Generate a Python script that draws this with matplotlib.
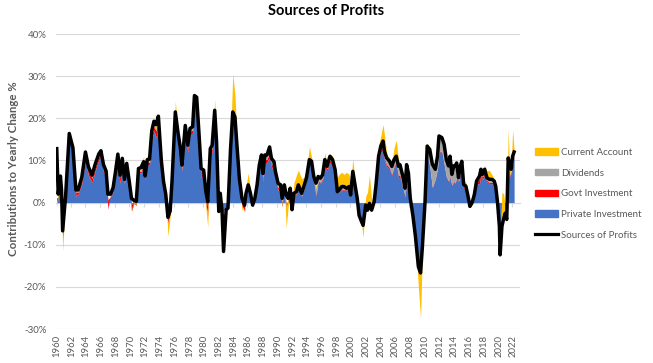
import matplotlib.pyplot as plt
from matplotlib.patches import Patch
from matplotlib.lines import Line2D
import numpy as np

plt.rcParams['font.family'] = ['Lato', 'DejaVu Sans']

# quarterly-ish readings, % contribution to yearly change
years = [1960.00, 1960.20, 1960.50, 1960.65, 1960.80, 1961.20, 1961.70, 1962.20, 1962.60, 1962.90,
         1963.40, 1963.90, 1964.30, 1964.80, 1965.20, 1965.70, 1966.00, 1966.35, 1966.70, 1966.95,
         1967.30, 1967.65, 1967.95, 1968.30, 1968.60, 1968.90, 1969.20, 1969.50, 1969.85, 1970.15,
         1970.50, 1970.80, 1971.10, 1971.45, 1971.80, 1972.00, 1972.30, 1972.60, 1972.90, 1973.20,
         1973.50, 1973.80, 1974.20, 1974.50, 1974.80, 1975.10, 1975.40, 1975.65, 1976.10, 1976.45,
         1976.80, 1977.00, 1977.45, 1977.80, 1978.10, 1978.45, 1978.70, 1979.00, 1979.30, 1979.60,
         1979.95, 1980.25, 1980.50, 1980.85, 1981.10, 1981.45, 1981.70, 1982.00, 1982.20, 1982.45,
         1982.65, 1983.00, 1983.25, 1983.60, 1983.90, 1984.20, 1984.50, 1984.80, 1985.15, 1985.50,
         1985.70, 1986.00, 1986.30, 1986.60, 1986.90, 1987.20, 1987.50, 1987.80, 1988.00, 1988.25,
         1988.55, 1988.90, 1989.15, 1989.50, 1989.70, 1990.05, 1990.40, 1990.60, 1990.90, 1991.15,
         1991.40, 1991.70, 1991.95, 1992.20, 1992.55, 1992.80, 1993.25, 1993.55, 1993.90, 1994.30,
         1994.60, 1994.90, 1995.20, 1995.50, 1995.80, 1996.10, 1996.40, 1996.70, 1997.10, 1997.45,
         1997.80, 1998.10, 1998.35, 1998.70, 1999.00, 1999.35, 1999.70, 1999.90, 2000.20, 2000.50,
         2000.80, 2001.05, 2001.40, 2001.60, 2001.95, 2002.20, 2002.45, 2002.75, 2003.10, 2003.35,
         2003.70, 2004.00, 2004.30, 2004.50, 2004.80, 2005.20, 2005.50, 2005.80, 2006.10, 2006.40,
         2006.60, 2007.00, 2007.30, 2007.50, 2007.75, 2008.00, 2008.35, 2008.70, 2009.10, 2009.40,
         2009.65, 2010.00, 2010.30, 2010.65, 2011.00, 2011.40, 2011.70, 2011.90, 2012.30, 2012.60,
         2012.90, 2013.20, 2013.40, 2013.65, 2013.90, 2014.10, 2014.30, 2014.55, 2014.80, 2015.00,
         2015.25, 2015.55, 2015.80, 2016.10, 2016.40, 2016.70, 2017.00, 2017.40, 2017.60, 2017.80,
         2018.10, 2018.40, 2018.75, 2019.10, 2019.40, 2019.60, 2019.85, 2020.10, 2020.20, 2020.45,
         2020.70, 2020.90, 2021.10, 2021.30, 2021.45, 2021.70, 2021.90, 2022.10]

total = [12.8, 2.0, 6.3, 3.0, -6.7, 1.5, 16.4, 13.0, 3.0, 3.0,
         6.0, 12.0, 8.5, 6.5, 9.0, 11.5, 12.3, 9.0, 7.5, 2.0,
         2.0, 3.5, 7.0, 11.5, 6.5, 10.5, 5.5, 9.3, 5.0, 1.0,
         0.5, 0.3, 8.1, 8.3, 9.7, 6.3, 10.2, 10.3, 17.0, 19.3,
         18.5, 20.5, 10.0, 5.0, 2.0, -3.5, -2.0, 5.0, 21.5, 16.8,
         12.8, 8.9, 18.3, 13.6, 17.6, 18.0, 25.4, 25.0, 16.8, 8.1,
         7.7, 2.6, 0.2, 12.8, 13.6, 21.9, 14.4, -2.1, 2.2, -2.1,
         -11.6, -1.7, -1.3, 12.8, 21.5, 20.3, 12.8, 5.7, 1.0, -0.6,
         2.2, 4.2, 2.2, -0.6, 1.0, 4.2, 8.9, 11.3, 6.9, 11.3,
         11.3, 13.2, 10.5, 9.7, 7.3, 4.6, 4.2, 1.0, 4.2, 1.8,
         1.0, 3.4, -1.7, 2.2, 2.6, 4.2, 2.2, 3.8, 5.8, 10.2,
         9.8, 6.2, 4.6, 6.2, 5.8, 6.6, 10.2, 8.6, 11.0, 10.2,
         7.8, 2.6, 3.0, 3.8, 3.8, 3.4, 3.8, 1.8, 7.4, 4.2,
         1.0, -3.0, -4.6, -5.4, -0.6, -1.8, -0.2, -1.8, 0.2, 4.2,
         11.0, 13.4, 14.6, 12.2, 10.6, 9.8, 8.6, 10.2, 11.0, 8.6,
         9.0, 6.2, 3.4, 9.0, 7.0, 1.0, -3.0, -8.0, -15.2, -16.7,
         -10.4, 0.0, 13.4, 12.6, 9.1, 7.9, 11.0, 15.8, 15.4, 13.8,
         10.2, 8.7, 11.0, 6.7, 8.7, 8.7, 9.4, 5.9, 8.7, 9.8,
         4.3, 3.9, 1.9, -0.9, 0.0, 1.9, 5.1, 6.3, 7.9, 6.7,
         7.9, 5.9, 5.5, 5.5, 5.1, 3.9, 0.0, -5.6, -12.4, -5.6,
         -3.7, -2.5, -4.0, 10.6, 9.4, 7.9, 11.0, 12.0]

private = [1.0, 1.5, 5.0, 2.5, -5.5, 1.0, 15.0, 11.5, 1.5, 2.0,
           4.5, 10.0, 6.5, 4.8, 7.5, 10.0, 11.0, 7.5, 5.5, 0.5,
           1.5, 2.5, 5.5, 10.0, 4.5, 9.5, 4.5, 8.5, 4.0, -0.5,
           0.5, 0.5, 7.0, 7.0, 8.5, 5.5, 9.0, 9.0, 15.0, 17.0,
           15.5, 19.0, 9.0, 4.0, 1.5, -3.0, -1.5, 4.5, 18.5, 15.0,
           11.0, 7.5, 16.0, 12.0, 16.0, 16.5, 24.0, 22.5, 14.5, 6.0,
           6.0, 1.0, -1.0, 11.5, 12.0, 19.5, 13.0, -1.0, 1.5, -1.5,
           -1.5, -1.5, -1.0, 11.5, 20.0, 19.0, 11.5, 5.0, 0.5, -0.5,
           1.5, 3.0, 1.5, -0.5, 0.8, 3.5, 7.5, 9.0, 5.0, 9.5,
           9.5, 11.0, 8.5, 7.5, 5.5, 3.0, 2.5, 0.0, 3.0, -0.5,
           0.5, 2.5, -1.0, 1.5, 2.0, 3.5, 1.5, 3.0, 5.0, 9.0,
           8.5, 5.0, 1.5, 5.0, 4.5, 5.5, 8.5, 7.5, 9.5, 8.5,
           6.5, 2.5, 2.5, 3.0, 3.0, 3.0, 3.0, 1.5, 6.5, 3.5,
           0.5, -2.5, -4.0, -4.5, -0.5, -1.0, 0.5, -1.0, 0.0, 3.5,
           9.5, 12.0, 12.5, 10.0, 8.5, 8.0, 6.5, 8.5, 9.0, 6.0,
           6.0, 3.5, 1.5, 5.5, 3.0, 0.5, -2.5, -7.5, -15.0, -16.5,
           -10.0, 0.0, 11.0, 8.5, 3.5, 5.5, 8.0, 12.0, 12.0, 9.0,
           6.0, 5.0, 6.0, 4.0, 5.0, 4.5, 6.0, 5.0, 6.5, 8.5,
           3.5, 3.0, 1.5, -0.5, 0.0, 1.5, 4.5, 4.5, 6.5, 5.5,
           6.5, 5.0, 4.5, 4.5, 4.0, 3.0, -0.5, -5.0, -6.0, -4.5,
           -3.0, -2.5, -3.5, 9.0, 6.0, 7.0, 9.0, 11.0]

govt = [-1.0, 0.3, 0.5, 0.3, -3.5, 0.4, 0.5, 0.6, 1.0, 0.5,
        0.8, 1.0, 1.0, 1.0, 0.8, 0.8, 0.6, 0.8, 1.2, -2.0,
        0.3, 0.6, 1.0, 1.0, 1.5, 0.6, 0.6, 0.5, 0.6, -1.5,
        -0.6, -1.2, 0.5, 0.4, 0.6, 0.4, 0.6, 0.5, 1.0, 1.0,
        1.5, 0.8, 0.5, 0.6, 0.3, -2.0, -1.0, 0.3, 1.5, 1.0,
        1.0, 0.5, 1.0, 0.8, 0.8, 0.8, 0.6, 1.5, 1.5, 1.5,
        1.0, -1.5, -2.0, 0.8, 0.8, 1.0, 0.8, -1.5, 0.3, -0.5,
        -0.3, 0.2, 0.3, 0.5, 0.3, 0.3, 0.3, 0.2, -1.5, -1.5,
        0.2, 0.3, 0.2, -0.5, 0.2, 0.3, 0.5, 0.8, 0.8, 0.8,
        0.8, 1.0, 0.8, 0.8, 0.6, 0.6, 0.8, -1.0, 0.5, -1.0,
        -0.5, 0.2, -0.5, 0.2, 0.2, 0.2, 0.2, 0.2, 0.2, 0.3,
        0.3, 0.3, 0.3, 0.3, 0.3, 0.3, 0.8, 0.5, 0.6, 0.6,
        0.4, 0.2, 0.2, 0.2, 0.2, 0.2, 0.2, 0.2, 0.2, 0.2,
        0.2, -0.3, -0.5, -1.0, 0.2, -0.3, 0.3, -0.5, 0.3, 0.3,
        0.5, 0.5, 0.5, 0.5, 0.5, 0.3, 0.3, 0.3, 0.3, 0.5,
        0.5, 0.3, -0.5, 0.3, -0.8, -1.5, -1.0, -0.5, 0.0, 0.0,
        0.0, 0.0, 0.2, 0.2, 0.2, 0.2, 0.2, 0.2, 0.2, 0.2,
        0.2, 0.2, 0.2, 0.2, 0.2, 0.2, 0.2, 0.2, 0.2, 0.2,
        0.2, 0.2, 0.2, -0.6, -0.3, 0.2, 0.3, 1.2, 0.8, 0.6,
        0.5, 0.3, 0.3, 0.3, 0.3, 0.3, 0.2, -0.2, -0.3, 0.0,
        0.0, 0.0, 0.0, 0.3, 0.3, 0.3, 0.3, 0.3]

dividends = [0.0, 0.0, 0.3, 0.0, -1.0, 0.0, 0.5, 0.5, 0.3, 0.3,
             0.5, 0.7, 0.8, 0.5, 0.5, 0.5, 0.4, 0.4, 0.4, 0.3,
             0.2, 0.3, 0.3, 0.3, 0.3, 0.2, 0.2, 0.2, 0.2, 0.3,
             0.3, 0.2, 0.3, 0.3, 0.3, 0.3, 0.3, 0.3, 0.5, 0.6,
             0.5, 0.3, 0.3, 0.3, 0.3, 0.0, 0.2, 0.2, 0.5, 0.3,
             0.3, 0.3, 0.5, 0.4, 0.4, 0.4, 0.4, 0.5, 0.4, 0.3,
             0.3, 0.3, 0.2, 0.3, 0.3, 0.5, 0.3, 0.2, 0.2, 0.0,
             0.0, 0.0, 0.0, 0.2, 0.2, 0.2, 0.2, 0.2, 0.2, 0.2,
             0.2, 0.2, 0.2, 0.2, 0.2, 0.2, 0.5, 0.8, 1.0, 0.8,
             0.8, 1.0, 1.0, 1.2, 1.0, 1.0, 1.0, 0.8, 0.8, 0.5,
             0.5, 0.5, 0.5, 0.5, 0.8, 1.0, 1.0, 0.8, 0.5, 0.5,
             0.5, 0.5, 1.5, 0.8, 0.8, 0.6, 0.5, 0.4, 0.4, 0.5,
             0.5, 0.8, 1.0, 1.5, 0.5, 0.5, 0.5, 0.3, 0.3, 0.3,
             0.2, 0.2, 0.2, 0.3, 0.3, 0.3, 0.3, 0.3, 0.3, 0.5,
             0.5, 0.8, 1.0, 1.0, 1.5, 1.5, 1.8, 1.2, 1.5, 2.0,
             2.5, 2.5, 2.0, 3.0, 3.5, 3.0, 1.5, 0.5, 0.0, 0.0,
             0.3, 0.5, 2.5, 3.8, 5.0, 2.5, 3.0, 3.8, 3.4, 4.8,
             4.0, 3.6, 5.0, 2.5, 3.5, 4.0, 3.2, 0.8, 2.0, 1.2,
             0.6, 0.5, 0.2, 0.2, 0.2, 0.2, 0.2, 0.3, 0.3, 0.3,
             0.3, 0.3, 0.3, 0.3, 0.3, 0.2, 0.2, 0.0, 0.0, 0.0,
             0.0, 0.0, 0.0, 0.3, 0.3, 0.3, 0.5, 0.3]

current = [-1.0, -0.5, 0.3, 0.0, -1.5, 0.0, 1.0, 0.5, 0.2, 0.2,
           0.3, 0.3, 0.2, 0.2, 0.2, 0.5, 0.3, 0.3, 0.2, 0.0,
           0.0, 0.1, 0.2, 0.2, 0.2, 0.2, 0.2, 0.1, 0.2, 0.2,
           0.3, 0.3, 0.8, 1.5, 1.5, 0.3, 1.2, 2.2, 1.0, 0.8,
           2.5, 0.5, 0.4, 0.3, 0.2, -3.0, -1.0, 0.2, 3.5, 1.0,
           0.5, 0.6, 1.0, 0.4, 0.5, 0.3, 0.5, 0.3, 0.2, 0.2,
           0.3, -1.0, -3.0, 0.3, 0.4, 3.5, 0.5, -0.5, 0.2, -0.3,
           0.0, 0.0, 0.2, 2.5, 10.0, 6.0, 2.0, 0.5, -1.0, 0.5,
           2.0, 3.5, 1.0, -0.3, 0.3, 0.5, 1.0, 1.5, 0.5, 0.5,
           0.3, 0.5, 0.5, 0.5, 0.5, 0.3, 0.3, -0.5, 0.3, -5.0,
           -2.0, 1.0, 0.5, 2.5, 3.5, 3.0, 3.0, 2.0, 1.5, 3.5,
           1.5, 0.5, 0.5, 0.3, 0.3, 0.5, 2.0, 0.8, 0.8, 1.5,
           0.5, 2.5, 3.0, 2.5, 3.0, 3.5, 3.0, 2.0, 3.5, 1.0,
           0.5, -0.5, -1.0, -3.0, 1.5, 3.5, 5.5, 2.0, 1.0, 2.0,
           3.0, 2.5, 4.5, 4.5, 1.0, 0.5, 1.0, 3.0, 4.0, 1.5,
           0.5, 0.5, 0.3, 1.0, 0.5, 0.3, -0.5, -1.0, -5.0, -11.0,
           -1.5, 0.5, 0.5, 0.3, 0.5, 0.3, 0.3, 0.3, 0.3, 0.3,
           0.3, 0.3, 0.3, 2.5, 0.3, 0.3, 0.3, 0.3, 0.5, 0.3,
           1.0, 1.0, 0.5, -0.3, 0.3, 0.3, 0.3, 0.3, 0.5, 0.5,
           1.5, 2.0, 2.5, 1.5, 1.0, 0.5, 0.3, -0.5, -0.5, 7.0,
           5.0, 1.0, 0.5, 8.0, 3.0, 1.0, 7.5, 1.0]

x = np.array(years)
c1 = np.array(private)
c2 = c1 + np.array(govt)
c3 = c2 + np.array(dividends)
c4 = c3 + np.array(current)

fig = plt.figure(figsize=(6.53, 3.63), dpi=100)
ax = fig.add_axes([56 / 653, 1 - 329 / 363, (520 - 56) / 653, (329 - 34) / 363])

ax.fill_between(x, 0, c1, color='#4472C4', lw=0, zorder=2)
ax.fill_between(x, c1, c2, color='#FF0000', lw=0, zorder=2)
ax.fill_between(x, c2, c3, color='#A5A5A5', lw=0, zorder=2)
ax.fill_between(x, c3, c4, color='#FFC000', lw=0, zorder=2)
ax.plot(x, total, color='black', lw=2.5, zorder=3)

ax.set_xlim(1959.9, 2022.9)
ax.set_ylim(-30, 40)
ax.set_yticks(range(-30, 41, 10))
ax.set_yticklabels([f'{v}%' for v in range(-30, 41, 10)])
ax.set_xticks(range(1960, 2023, 2))
ax.set_xticklabels([str(y) for y in range(1960, 2023, 2)], rotation=90)
ax.tick_params(axis='both', length=0, labelsize=7, labelcolor='#595959')
ax.tick_params(axis='y', pad=7)
ax.tick_params(axis='x', pad=4, labelsize=6.8)
ax.grid(axis='y', color='#d9d9d9', lw=0.8)
ax.set_axisbelow(True)
for s in ax.spines.values():
    s.set_visible(False)

# category axis crossing at 0%
sec = ax.secondary_xaxis(30 / 70)
sec.set_xticks([y - 0.125 for y in range(1960, 2023, 2)])
sec.tick_params(length=3, color='#d9d9d9', labelbottom=False, width=0.8)
sec.spines['bottom'].set_color('#d9d9d9')
sec.spines['bottom'].set_linewidth(0.8)

fig.text(0.5, 1 - 11 / 363, 'Sources of Profits', ha='center', va='center',
         fontsize=10.5, fontweight='bold')
fig.text(14 / 653, 1 - 169 / 363, 'Contributions to Yearly Change %', rotation=90,
         ha='center', va='center', fontsize=8.3, fontweight='bold', color='#595959')

handles = [Patch(color='#FFC000'), Patch(color='#A5A5A5'), Patch(color='#FF0000'),
           Patch(color='#4472C4'), Line2D([0], [0], color='black', lw=2.3)]
labels = ['Current Account', 'Dividends', 'Govt Investment', 'Private Investment',
          'Sources of Profits']
fig.legend(handles, labels, loc='upper left', bbox_to_anchor=(535 / 653, 1 - 148 / 363),
           frameon=False, fontsize=7, labelcolor='#595959', handlelength=2.4,
           handleheight=0.6, labelspacing=1.2, handletextpad=0.3, borderaxespad=0,
           borderpad=0)

fig.savefig('out.png', dpi=100)
